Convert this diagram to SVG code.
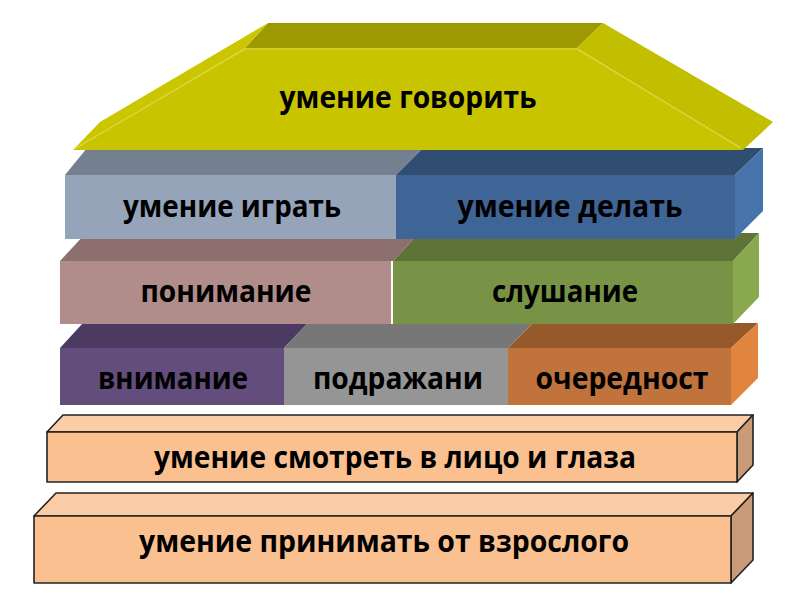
<svg xmlns="http://www.w3.org/2000/svg" width="800" height="607" viewBox="0 0 800 607">
<style>
text{font-family:"Open Sans","Noto Sans","DejaVu Sans",sans-serif;font-weight:700;font-size:30px;fill:#000;text-anchor:middle}
.pe{stroke:#222;stroke-width:1.6;stroke-linejoin:round}
.hl{fill:none;stroke:#dcd84a;stroke-width:1.2}
</style>
<rect width="800" height="607" fill="#fff"/>

<g id="base2">
<polygon class="pe" points="34,516 56,493 753,493 731,516" fill="#fbcda7"/>
<polygon class="pe" points="731,516 753,493 753,560 731,583" fill="#c99b78"/>
<rect class="pe" x="34" y="516" width="697" height="67" fill="#fac090"/>
<text x="384" y="552" textLength="490" lengthAdjust="spacingAndGlyphs">умение принимать от взрослого</text>
</g>

<g id="base1">
<polygon class="pe" points="47,432 63,415 753,415 737,432" fill="#fbcda7"/>
<polygon class="pe" points="737,432 753,415 753,465 737,482" fill="#c99b78"/>
<rect class="pe" x="47" y="432" width="690" height="50" fill="#fac090"/>
<text x="395" y="468" textLength="482" lengthAdjust="spacingAndGlyphs">умение смотреть в лицо и глаза</text>
</g>

<g id="row3">
<g id="vnimanie">
<polygon points="60,348 83,323 308,323 284,348" fill="#4c3a62"/>
<rect x="60" y="348" width="224" height="57" fill="#634d7c"/>
<text x="173" y="389" textLength="150" lengthAdjust="spacingAndGlyphs">внимание</text>
</g>
<g id="podrazhani">
<polygon points="284,348 308,323 533,323 508,348" fill="#777777"/>
<rect x="284" y="348" width="224" height="57" fill="#959595"/>
<text x="398" y="389" textLength="170" lengthAdjust="spacingAndGlyphs">подражани</text>
</g>
<g id="ocherednost">
<polygon points="508,348 533,323 758,323 731,348" fill="#96592a"/>
<polygon points="731,348 758,323 758,378 731,405" fill="#e0843e"/>
<rect x="508" y="348" width="223" height="57" fill="#c0733a"/>
<text x="622" y="389" textLength="173" lengthAdjust="spacingAndGlyphs">очередност</text>
</g>
</g>

<g id="row2">
<g id="ponimanie">
<polygon points="60,261 86,233 419,233 393,261" fill="#8c6f6e"/>
<rect x="60" y="261" width="331" height="63" fill="#b08c8a"/>
<text x="226" y="302" textLength="171" lengthAdjust="spacingAndGlyphs">понимание</text>
</g>
<g id="slushanie">
<polygon points="393,261 419,233 759,233 733,261" fill="#5f7337"/>
<polygon points="733,261 759,233 759,297 733,324" fill="#8aa84e"/>
<rect x="393" y="261" width="340" height="63" fill="#789345"/>
<text x="565" y="302" textLength="146" lengthAdjust="spacingAndGlyphs">слушание</text>
</g>
<line x1="392" y1="261" x2="392" y2="324" stroke="#fff" stroke-width="2"/>
</g>

<g id="row1">
<g id="igrat">
<polygon points="65,175 87,148 423,148 396,175" fill="#748090"/>
<rect x="65" y="175" width="331" height="64" fill="#95a4b8"/>
<text x="232" y="217" textLength="218" lengthAdjust="spacingAndGlyphs">умение играть</text>
</g>
<g id="delat">
<polygon points="396,175 423,148 763,148 735,175" fill="#2f4e72"/>
<polygon points="735,175 763,148 763,211 735,239" fill="#4673aa"/>
<rect x="396" y="175" width="339" height="64" fill="#3f6496"/>
<text x="570" y="217" textLength="225" lengthAdjust="spacingAndGlyphs">умение делать</text>
</g>
</g>

<g id="roof">
<polygon points="245,48 268,23 603,23 577,48" fill="#9c9a00"/>
<polygon points="73,150 100,122 268,23 245,48" fill="#cac600"/>
<polygon points="577,48 603,23 773,122 743,150" fill="#c2be00"/>
<polygon points="73,150 245,48 577,48 743,150" fill="#c8c400"/>
<polyline class="hl" points="76,148 245,49 577,49 741,148"/>
<text x="408" y="108" textLength="257" lengthAdjust="spacingAndGlyphs">умение говорить</text>
</g>
</svg>
